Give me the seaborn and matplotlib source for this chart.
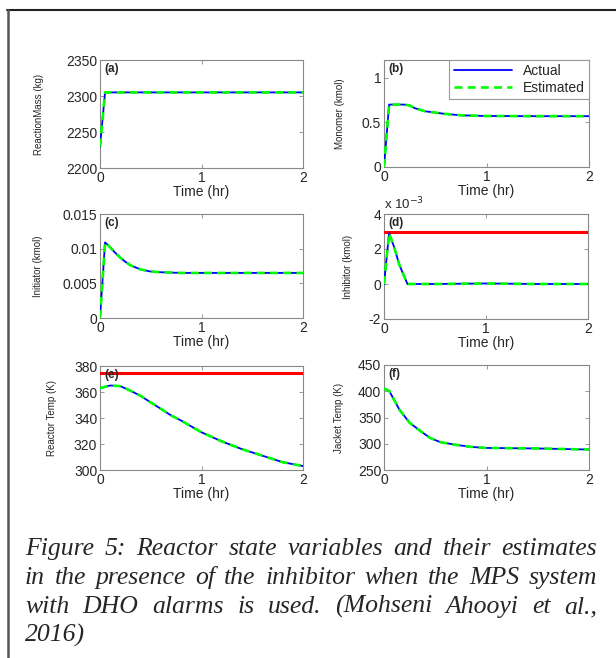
import matplotlib
matplotlib.use('Agg')
import matplotlib.pyplot as plt
from matplotlib.lines import Line2D
from matplotlib.ticker import FuncFormatter
import seaborn as sns

# (a) reaction mass
t_a = [0, 0.05, 0.5, 1.0, 1.5, 2.0]
mass = [2230, 2305, 2305, 2305, 2305, 2305]

# (b) monomer
t_b = [0, 0.05, 0.1, 0.2, 0.25, 0.3, 0.4, 0.5, 0.6, 0.75, 0.9, 1.0, 1.5, 2.0]
monomer = [0, 0.70, 0.70, 0.70, 0.69, 0.66, 0.625, 0.61, 0.595, 0.58, 0.575, 0.572, 0.57, 0.57]

# (c) initiator
t_c = [0, 0.05, 0.1, 0.15, 0.2, 0.25, 0.3, 0.4, 0.5, 0.6, 0.8, 1.0, 1.5, 2.0]
initiator = [0, 0.0109, 0.0102, 0.0094, 0.0087, 0.0081, 0.0076, 0.0070, 0.0067, 0.0066, 0.0065, 0.0065, 0.0065, 0.0065]

# (d) inhibitor
t_d = [0, 0.05, 0.1, 0.15, 0.23, 0.5, 1.0, 1.5, 2.0]
inhibitor = [0, 0.0029, 0.0021, 0.0011, 0.0, 0.0, 0.00003, 0.0, 0.0]
inhibitor_limit = 0.003

# (e) reactor temperature
t_e = [0, 0.1, 0.2, 0.3, 0.4, 0.5, 0.6, 0.7, 0.8, 1.0, 1.2, 1.4, 1.6, 1.8, 2.0]
reactor_temp = [363, 365, 364.5, 361, 357, 352, 347, 342, 338, 329, 322, 316, 311, 306, 303]
temp_limit = 375

# (f) jacket temperature
t_f = [0, 0.05, 0.1, 0.15, 0.25, 0.35, 0.45, 0.55, 0.7, 0.85, 1.0, 1.5, 2.0]
jacket_temp = [405, 401, 383, 365, 340, 325, 311, 303, 298, 294, 292, 291, 289]

panels = [
    ("(a)", t_a, mass, "ReactionMass (kg)", (2200, 2350), [2200, 2250, 2300, 2350], None),
    ("(b)", t_b, monomer, "Monomer (kmol)", (0, 1.2), [0, 0.5, 1], None),
    ("(c)", t_c, initiator, "Initiator (kmol)", (0, 0.015), [0, 0.005, 0.01, 0.015], None),
    ("(d)", t_d, inhibitor, "Inhibitor (kmol)", (-0.002, 0.004), [-0.002, 0, 0.002, 0.004], inhibitor_limit),
    ("(e)", t_e, reactor_temp, "Reactor Temp (K)", (300, 380), [300, 320, 340, 360, 380], temp_limit),
    ("(f)", t_f, jacket_temp, "Jacket Temp (K)", (250, 450), [250, 300, 350, 400, 450], None),
]

caption = [
    "Figure 5:  Reactor state variables and their estimates",
    "in the presence of the inhibitor when the MPS system",
    "with DHO alarms is used. (Mohseni Ahooyi et al.,",
    "2016)",
]

sns.set_style("white")
plt.rcParams['font.family'] = ['Liberation Sans', 'DejaVu Sans']
plt.rcParams['axes.unicode_minus'] = False

fig = plt.figure(figsize=(6.16, 6.58), dpi=100)
W, H = 616, 658
boxes = [(100, 60, 303, 168), (384, 60, 589, 167),
         (100, 214, 303, 318), (384, 214, 588, 319),
         (100, 366, 303, 470), (384, 365, 589, 470)]
pads = [16, 12, 14, 11, 12, 10]

for (lab, t, y, ylab, ylim, yticks, limit), (x0, y0, x1, y1), lp in zip(panels, boxes, pads):
    ax = fig.add_axes([x0 / W, 1 - y1 / H, (x1 - x0) / W, (y1 - y0) / H])
    if limit is not None:
        ax.axhline(limit, color='red', lw=2.2, zorder=3)
    sns.lineplot(x=t, y=y, ax=ax, color='blue', lw=1.3, label='Actual', zorder=4)
    sns.lineplot(x=t, y=y, ax=ax, color='#00ff00', lw=1.9, ls=(0, (3, 2)), label='Estimated', zorder=5)
    ax.set_xlim(0, 2)
    ax.set_ylim(*ylim)
    ax.set_xticks([0, 1, 2])
    ax.set_yticks(yticks)
    if lab == "(d)":
        ax.yaxis.set_major_formatter(FuncFormatter(lambda v, p: '%g' % round(v * 1e3, 6)))
        ax.text(0.0, 1.02, r'x 10$^{-3}$', transform=ax.transAxes, fontsize=9.5,
                va='bottom', ha='left')
    else:
        ax.yaxis.set_major_formatter(FuncFormatter(lambda v, p: '%g' % round(v, 6)))
    ax.tick_params(direction='in', length=3, width=0.6, color='#888888', labelsize=10,
                   top=True, right=True, bottom=True, left=True, pad=2)
    for s in ax.spines.values():
        s.set_color('#888888')
        s.set_linewidth(0.8)
    ax.set_xlabel("Time (hr)", fontsize=10, labelpad=0)
    ax.set_ylabel(ylab, fontsize=7, labelpad=lp)
    ax.text(0.02, 0.97, lab, transform=ax.transAxes, fontsize=8.5, fontweight='bold',
            va='top', ha='left')
    if lab == "(b)":
        leg = ax.legend(loc='upper right', fontsize=10, borderaxespad=0, fancybox=False,
                        edgecolor='#999999', framealpha=1, handlelength=4.2, borderpad=0.3,
                        labelspacing=0.2)
        leg.get_frame().set_linewidth(0.8)
    else:
        ax.get_legend().remove()

# outer frame lines of the figure box
fig.add_artist(Line2D([7 / W, 1], [1 - 10 / H, 1 - 10 / H], color='#222222', lw=1.5))
fig.add_artist(Line2D([8 / W, 8 / W], [0, 1 - 10 / H], color='#555555', lw=1.8))

# justified caption lines
renderer = fig.canvas.get_renderer()
left, right = 25, 597
for i, line in enumerate(caption):
    yb = 1 - (555 + 29 * i) / H
    words = line.split()
    if i == len(caption) - 1:
        fig.text(left / W, yb, line, family='Liberation Serif', style='italic',
                 fontsize=18.5, va='baseline', ha='left')
        continue
    arts = [fig.text(0, yb, w, family='Liberation Serif', style='italic',
                     fontsize=18.5, va='baseline', ha='left') for w in words]
    widths = [a.get_window_extent(renderer).width for a in arts]
    gap = (right - left - sum(widths)) / (len(words) - 1)
    x = left
    for a, w in zip(arts, widths):
        a.set_x(x / W)
        x += w + gap

plt.savefig('out.png', dpi=100)
